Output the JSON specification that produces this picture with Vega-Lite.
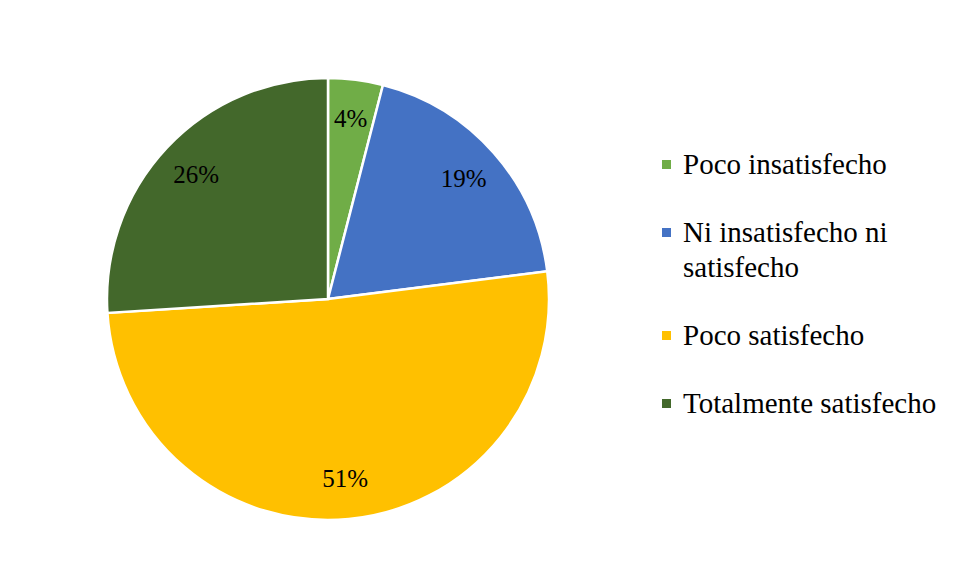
{
  "$schema": "https://vega.github.io/schema/vega-lite/v6.json",
  "width": 442,
  "height": 442,
  "autosize": {"type": "none"},
  "padding": {"left": 107, "top": 78, "right": 406, "bottom": 60},
  "background": "white",
  "config": {
    "view": {"stroke": null},
    "font": "Liberation Serif",
    "style": {"guide-label": {"lineHeight": 35}}
  },
  "data": {
    "values": [
      {"categoria": "Poco insatisfecho", "valor": 0.04, "orden": 1},
      {"categoria": "Ni insatisfecho ni satisfecho", "valor": 0.19, "orden": 2},
      {"categoria": "Poco satisfecho", "valor": 0.51, "orden": 3},
      {"categoria": "Totalmente satisfecho", "valor": 0.26, "orden": 4}
    ]
  },
  "encoding": {
    "theta": {"field": "valor", "type": "quantitative", "stack": true},
    "order": {"field": "orden", "type": "quantitative"}
  },
  "layer": [
    {
      "mark": {"type": "arc", "stroke": "white", "strokeWidth": 2.5},
      "encoding": {
        "color": {
          "field": "categoria",
          "type": "nominal",
          "scale": {
            "domain": ["Poco insatisfecho", "Ni insatisfecho ni satisfecho", "Poco satisfecho", "Totalmente satisfecho"],
            "range": ["#70AD47", "#4472C4", "#FFC000", "#43682B"]
          },
          "legend": {
            "title": null,
            "orient": "none",
            "legendX": 545,
            "legendY": 72,
            "symbolType": "square",
            "symbolSize": 81,
            "symbolStrokeWidth": 0,
            "labelFont": "Liberation Serif",
            "labelFontSize": 29,
            "labelColor": "#000000",
            "labelOffset": 2,
            "labelLimit": 400,
            "rowPadding": 38,
            "labelExpr": "datum.label == 'Ni insatisfecho ni satisfecho' ? ['Ni insatisfecho ni', 'satisfecho'] : datum.label"
          }
        }
      }
    },
    {
      "mark": {"type": "text", "radius": 181, "font": "Liberation Serif", "fontSize": 25, "color": "#000000"},
      "encoding": {
        "text": {"field": "valor", "type": "quantitative", "format": ".0%"}
      }
    }
  ]
}
